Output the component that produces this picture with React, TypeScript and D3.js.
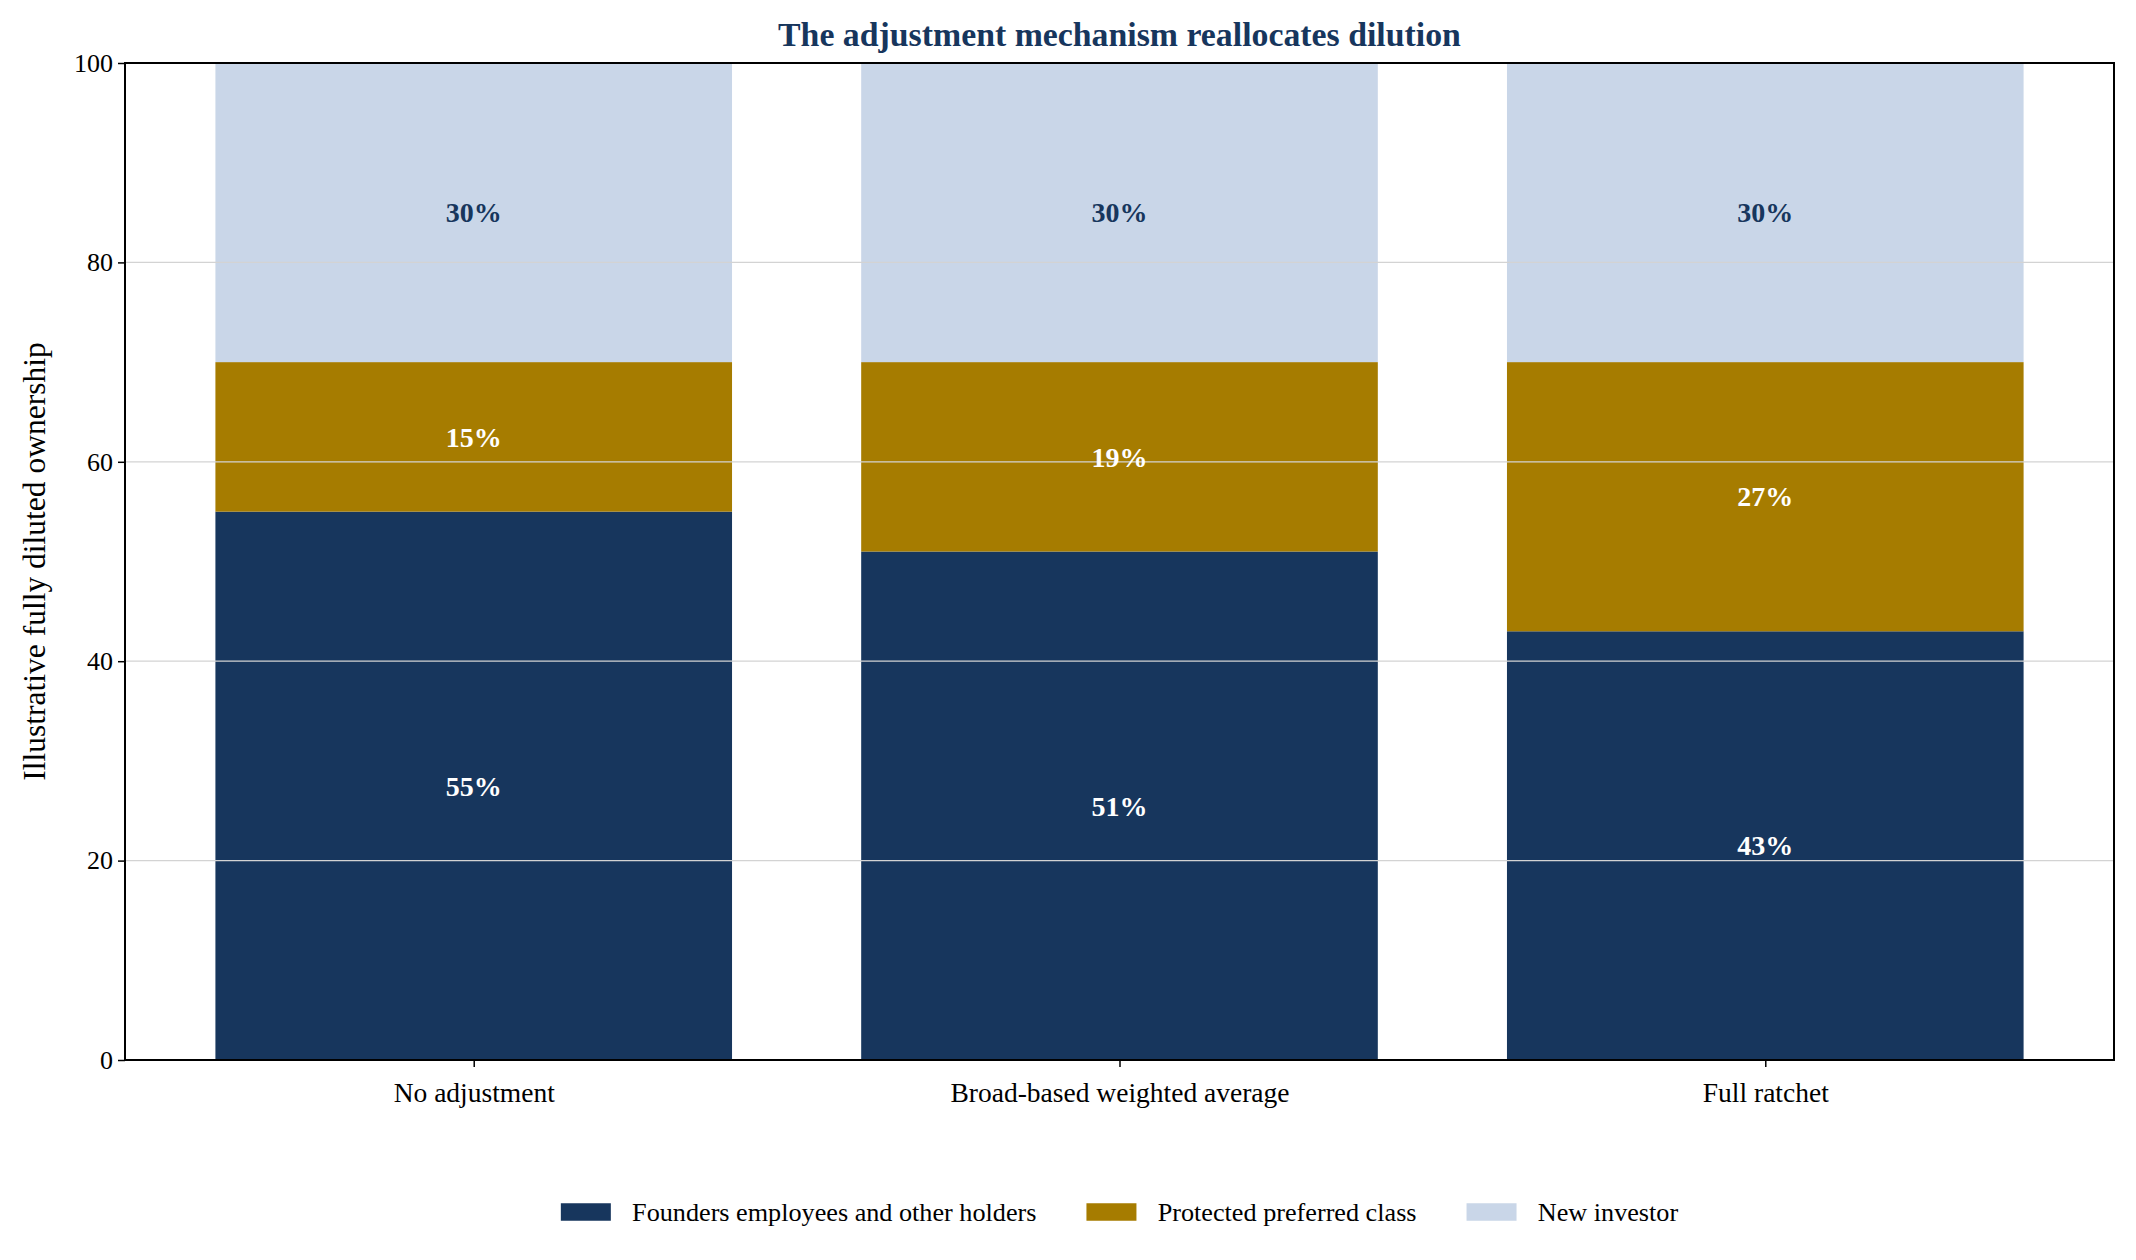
import React, { useEffect, useRef } from 'react';
import * as d3 from 'd3';

const categories = ['No adjustment', 'Broad-based weighted average', 'Full ratchet'];
const founders = [55, 51, 43];
const protectedPref = [15, 19, 27];
const newInvestor = [30, 30, 30];
const seriesNames = ['Founders employees and other holders', 'Protected preferred class', 'New investor'];
const yTicks = [0, 20, 40, 60, 80, 100];

const COLORS = ['#17365d', '#a67c00', '#c9d6e8'];
const LABEL_COLORS = ['#ffffff', '#ffffff', '#17365d'];
const FONT = '"Liberation Serif", "Times New Roman", serif';

const W = 2136;
const H = 1260;

export default function App() {
  const svgRef = useRef<SVGSVGElement>(null);

  useEffect(() => {
    if (!svgRef.current) return;
    const svg = d3.select(svgRef.current);
    svg.selectAll('*').remove();

    const left = 125, right = 2114, top = 63, bottom = 1060;

    const x = d3.scaleLinear().domain([-0.54, 2.54]).range([left, right]);
    const y = d3.scaleLinear().domain([0, 100]).range([bottom, top]);
    const barW = x(0.8) - x(0);

    const rows = categories.map((c, i) => ({
      cat: c, idx: i,
      founders: founders[i], protectedPref: protectedPref[i], newInvestor: newInvestor[i],
    }));
    const stack = d3.stack<any>().keys(['founders', 'protectedPref', 'newInvestor'])(rows);

    svg.append('rect').attr('width', W).attr('height', H).attr('fill', '#fff');

    // bars
    stack.forEach((layer, li) => {
      svg.append('g').selectAll('rect')
        .data(layer)
        .enter()
        .append('rect')
        .attr('x', (d: any) => x(d.data.idx) - barW / 2)
        .attr('width', barW)
        .attr('y', (d: any) => y(d[1]))
        .attr('height', (d: any) => y(d[0]) - y(d[1]))
        .attr('fill', COLORS[li]);
    });

    // grid sits over the bars
    svg.append('g').selectAll('line')
      .data(yTicks.filter(t => t > 0 && t < 100))
      .enter()
      .append('line')
      .attr('x1', left).attr('x2', right)
      .attr('y1', d => y(d)).attr('y2', d => y(d))
      .attr('stroke', '#d3d3d3')
      .attr('stroke-width', 1.3);

    // segment labels
    stack.forEach((layer, li) => {
      svg.append('g').selectAll('text')
        .data(layer)
        .enter()
        .append('text')
        .attr('x', (d: any) => x(d.data.idx))
        .attr('y', (d: any) => y((d[0] + d[1]) / 2))
        .attr('dy', '0.35em')
        .attr('text-anchor', 'middle')
        .attr('font-family', FONT)
        .attr('font-weight', 'bold')
        .attr('font-size', 28)
        .attr('fill', LABEL_COLORS[li])
        .text((d: any) => `${d[1] - d[0]}%`);
    });

    // spines
    svg.append('rect')
      .attr('x', left).attr('y', top)
      .attr('width', right - left).attr('height', bottom - top)
      .attr('fill', 'none').attr('stroke', '#000').attr('stroke-width', 2);

    // y axis
    const yAxis = svg.append('g')
      .attr('transform', `translate(${left},0)`)
      .call(d3.axisLeft(y).tickValues(yTicks).tickSize(7).tickPadding(5));
    yAxis.select('.domain').remove();
    yAxis.selectAll('line').attr('stroke', '#000').attr('stroke-width', 1.5);
    yAxis.selectAll('text').attr('font-family', FONT).attr('font-size', 26).attr('fill', '#000');

    // x axis
    const xAxis = svg.append('g')
      .attr('transform', `translate(0,${bottom})`)
      .call(d3.axisBottom(x).tickValues([0, 1, 2]).tickFormat((d: any) => categories[d]).tickSize(7).tickPadding(15));
    xAxis.select('.domain').remove();
    xAxis.selectAll('line').attr('stroke', '#000').attr('stroke-width', 1.5);
    xAxis.selectAll('text').attr('font-family', FONT).attr('font-size', 27.5).attr('fill', '#000');

    // y label
    svg.append('text')
      .attr('transform', `translate(34,${(top + bottom) / 2}) rotate(-90)`)
      .attr('text-anchor', 'middle')
      .attr('dy', '0.35em')
      .attr('font-family', FONT)
      .attr('font-size', 31.5)
      .text('Illustrative fully diluted ownership');

    // title
    svg.append('text')
      .attr('x', (left + right) / 2)
      .attr('y', 34)
      .attr('dy', '0.35em')
      .attr('text-anchor', 'middle')
      .attr('font-family', FONT)
      .attr('font-weight', 'bold')
      .attr('font-size', 33.8)
      .attr('fill', '#17365d')
      .text('The adjustment mechanism reallocates dilution');

    // legend
    const fs = 25;
    const tfs = 26.2;
    const legY = 1212;
    const leg = svg.append('g');
    const items = seriesNames.map((name, i) => {
      const g = leg.append('g');
      g.append('rect').attr('width', fs * 2).attr('height', fs * 0.7)
        .attr('y', legY - fs * 0.35).attr('fill', COLORS[i]);
      const t = g.append('text')
        .attr('x', fs * 2 + fs * 0.85)
        .attr('y', legY)
        .attr('dy', '0.35em')
        .attr('font-family', FONT)
        .attr('font-size', tfs)
        .text(name);
      const tw = (t.node() as SVGTextElement).getComputedTextLength();
      return { g, w: fs * 2.85 + tw };
    });
    const total = d3.sum(items, d => d.w) + fs * 2 * (items.length - 1);
    let cx = (left + right) / 2 - total / 2;
    items.forEach(it => {
      it.g.attr('transform', `translate(${cx},0)`);
      cx += it.w + fs * 2;
    });
  }, []);

  return (
    <svg
      ref={svgRef}
      width={W}
      height={H}
      style={{ display: 'block', position: 'absolute', left: 0, top: 0 }}
    />
  );
}
